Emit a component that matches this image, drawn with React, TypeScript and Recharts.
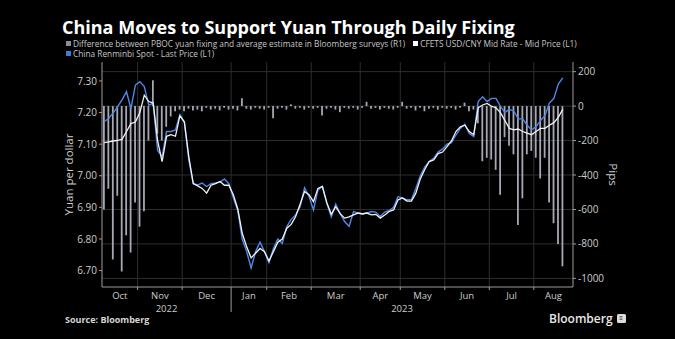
import React from 'react'
import {
  ComposedChart,
  Bar,
  Line,
  XAxis,
  YAxis,
  CartesianGrid,
} from 'recharts'

// one point ~ every second trading day, Oct 2022 -> mid Aug 2023
const months = ['Oct', 'Nov', 'Dec', 'Jan', 'Feb', 'Mar', 'Apr', 'May', 'Jun', 'Jul', 'Aug']
const monthPoints = [8, 10, 11, 8, 10, 11, 9, 10, 10, 10, 7]
const years = ['2022', '2023']
const yearMonths = [3, 8]

// China Renminbi Spot - Last Price (L1)
const spot = [
  7.171, 7.182, 7.198, 7.219, 7.24, 7.266, 7.213, 7.287,
  7.298, 7.282, 7.224, 7.229, 7.08, 7.06, 7.14, 7.14, 7.145, 7.193,
  7.17, 7.05, 6.975, 6.971, 6.977, 6.966, 6.975, 6.977, 6.98, 6.99, 6.975,
  6.93, 6.89, 6.8, 6.76, 6.708, 6.76, 6.79, 6.76,
  6.725, 6.77, 6.8, 6.786, 6.839, 6.862, 6.876, 6.902, 6.962, 6.934,
  6.892, 6.955, 6.966, 6.913, 6.87, 6.91, 6.88, 6.855, 6.84, 6.887, 6.882,
  6.88, 6.882, 6.887, 6.885, 6.871, 6.885, 6.89, 6.9, 6.934,
  6.93, 6.924, 6.924, 6.96, 7.0, 7.028, 7.045, 7.055, 7.075, 7.085,
  7.1, 7.105, 7.129, 7.15, 7.163, 7.134, 7.124, 7.235, 7.25, 7.235,
  7.245, 7.245, 7.22, 7.2, 7.21, 7.205, 7.18, 7.18, 7.16, 7.145,
  7.155, 7.175, 7.19, 7.23, 7.245, 7.29, 7.31,
]

// CFETS USD/CNY Mid Rate - Mid Price (L1)
const mid = [
  7.105, 7.107, 7.11, 7.112, 7.115, 7.14, 7.165, 7.17,
  7.2, 7.255, 7.235, 7.23, 7.11, 7.045, 7.125, 7.13, 7.125, 7.19,
  7.17, 7.06, 6.975, 6.968, 6.96, 6.945, 6.97, 6.975, 6.982, 6.97, 6.97,
  6.94, 6.895, 6.818, 6.775, 6.74, 6.755, 6.77, 6.76,
  6.73, 6.76, 6.79, 6.8, 6.834, 6.846, 6.871, 6.91, 6.95, 6.94,
  6.918, 6.96, 6.966, 6.915, 6.878, 6.902, 6.88, 6.866, 6.87, 6.876, 6.882,
  6.879, 6.882, 6.876, 6.878, 6.866, 6.876, 6.887, 6.892, 6.924,
  6.93, 6.92, 6.92, 6.945, 6.99, 7.02, 7.045, 7.05, 7.07, 7.075,
  7.092, 7.11, 7.14, 7.155, 7.16, 7.14, 7.13, 7.215, 7.224, 7.229,
  7.22, 7.215, 7.2, 7.175, 7.15, 7.145, 7.148, 7.14, 7.135, 7.13,
  7.14, 7.15, 7.15, 7.16, 7.168, 7.185, 7.21,
]

// fixing minus survey estimate, pips (R1)
const diff = [
  -600, -480, -890, -520, -960, -750, -850, -560,
  -700, -610, -200, 150, -160, -200, -120, -60, -30, -20,
  -30, -15, -25, -20, -30, -10, -20, -15, -25, -10, -20,
  -15, -25, 45, -15, -20, -10, -15, -20,
  -10, -70, -15, -10, -20, 10, -15, -10, -20, -10,
  -15, -10, -55, -15, -10, -20, -35, -10, -15, -10, -20,
  -10, 25, -15, -10, -20, -10, -15, -20, -10,
  25, -15, -10, -25, -10, -30, -15, -10, -20, -10,
  -15, -10, -20, -10, 20, -30, -20, -100, -320, -300,
  -310, -370, -515, -180, -230, -280, -690, -535, -280, -260,
  -300, -420, -300, -560, -680, -800, -930,
]

const leftTicks = [6.7, 6.8, 6.9, 7.0, 7.1, 7.2, 7.3]
const rightTicks = [200, 0, -200, -400, -600, -800, -1000]

const data = spot.map((s, i) => ({ i, spot: s, mid: mid[i], diff: diff[i] }))

const starts: number[] = []
monthPoints.reduce((acc, n) => {
  starts.push(acc)
  return acc + n
}, 0)
const boundaries = starts.map((s) => s - 0.5)
const xEnd = spot.length + 1.3
const monthCenters = boundaries.map((b, k) => (b + (k + 1 < boundaries.length ? boundaries[k + 1] : xEnd)) / 2)
const yearBreak = yearMonths[0]
const yearCenters = [
  (boundaries[0] + boundaries[yearBreak]) / 2,
  (boundaries[yearBreak] + xEnd) / 2,
]
const xTicks = [...boundaries.slice(1), ...monthCenters, ...yearCenters]

const AXIS = '#9c9c9c'
const TEXT = '#cdcdcd'
const GRID = '#2e2e2e'

function XTick(props: any) {
  const { x, y, payload } = props
  const v = payload.value
  const bi = boundaries.indexOf(v)
  if (bi > 0) {
    return <line x1={x} x2={x} y1={y} y2={y + (bi === yearBreak ? 25 : 3)} stroke={AXIS} strokeWidth={1} />
  }
  const mi = monthCenters.indexOf(v)
  if (mi >= 0) {
    return (
      <text x={x} y={y + 11.5} textAnchor="middle" fill={TEXT} fontSize={9.5}>
        {months[mi]}
      </text>
    )
  }
  const yi = yearCenters.indexOf(v)
  if (yi >= 0) {
    return (
      <text x={x} y={y + 24.5} textAnchor="middle" fill={TEXT} fontSize={9.5}>
        {years[yi]}
      </text>
    )
  }
  return null
}

function Swatch({ color }: { color: string }) {
  return <span style={{ display: 'inline-block', width: 5, height: 5, background: color, marginRight: 2 }} />
}

export default function App() {
  return (
    <div
      style={{
        position: 'absolute',
        left: 0,
        top: 0,
        width: 675,
        height: 339,
        background: '#000',
        overflow: 'hidden',
        fontFamily: '"Open Sans", "Liberation Sans", sans-serif',
      }}
    >
      <div style={{ position: 'absolute', left: 62, top: 15, fontSize: 18, lineHeight: '24px', fontWeight: 700, color: '#fff', whiteSpace: 'nowrap' }}>
        China Moves to Support Yuan Through Daily Fixing
      </div>
      <div style={{ position: 'absolute', left: 66, top: 38, fontSize: 8.3, lineHeight: '11px', color: '#c6c6c6', whiteSpace: 'nowrap' }}>
        <div style={{ display: 'flex', alignItems: 'center', height: 10 }}>
          <Swatch color="#8d8d98" />
          <span>Difference between PBOC yuan fixing and average estimate in Bloomberg surveys (R1)</span>
          <span style={{ width: 8 }} />
          <Swatch color="#ffffff" />
          <span>CFETS USD/CNY Mid Rate - Mid Price (L1)</span>
        </div>
        <div style={{ display: 'flex', alignItems: 'center', height: 10 }}>
          <Swatch color="#3f7bd9" />
          <span>China Renminbi Spot - Last Price (L1)</span>
        </div>
      </div>

      <div style={{ position: 'absolute', left: 0, top: 0 }}>
        <ComposedChart width={675} height={339} data={data} margin={{ top: 62, right: 0, bottom: 0, left: 0 }}>
          <CartesianGrid
            stroke={GRID}
            yAxisId="right"
            horizontalValues={rightTicks}
            verticalValues={boundaries.slice(1)}
          />
          <XAxis
            dataKey="i"
            type="number"
            domain={[boundaries[0], xEnd]}
            ticks={xTicks}
            interval={0}
            tick={<XTick />}
            tickLine={false}
            tickSize={0}
            tickMargin={0}
            axisLine={{ stroke: AXIS }}
            height={52}
            allowDataOverflow
          />
          <YAxis
            yAxisId="left"
            orientation="left"
            domain={[6.648, 7.36]}
            ticks={leftTicks}
            tickFormatter={(v: number) => v.toFixed(2)}
            width={102}
            tickSize={3}
            tickMargin={2}
            axisLine={{ stroke: AXIS }}
            tickLine={{ stroke: AXIS }}
            tick={{ fill: TEXT, fontSize: 10 }}
            allowDataOverflow
            label={{
              value: 'Yuan per dollar',
              angle: -90,
              position: 'insideLeft',
              offset: 69,
              fill: TEXT,
              fontSize: 11.5,
              style: { textAnchor: 'middle' },
            }}
          />
          <YAxis
            yAxisId="right"
            orientation="right"
            domain={[-1050, 256]}
            ticks={rightTicks}
            width={102}
            tickSize={3}
            tickMargin={2}
            axisLine={{ stroke: AXIS }}
            tickLine={{ stroke: AXIS }}
            tick={{ fill: TEXT, fontSize: 10 }}
            allowDataOverflow
            label={{
              value: 'Pips',
              angle: 90,
              position: 'insideRight',
              offset: 62,
              fill: TEXT,
              fontSize: 11.5,
              style: { textAnchor: 'middle' },
            }}
          />
          <Line
            yAxisId="left"
            type="linear"
            dataKey="spot"
            stroke="#4d88e6"
            strokeWidth={1.4}
            dot={false}
            isAnimationActive={false}
          />
          <Bar yAxisId="right" dataKey="diff" fill="#b9b9ca" fillOpacity={0.9} barSize={1.8} isAnimationActive={false} />
          <Line
            yAxisId="left"
            type="linear"
            dataKey="mid"
            stroke="#f2f2f2"
            strokeWidth={1.3}
            dot={false}
            isAnimationActive={false}
          />
        </ComposedChart>
      </div>

      <div style={{ position: 'absolute', left: 65, top: 313, fontSize: 9, fontWeight: 700, color: '#d6d6d6', whiteSpace: 'nowrap' }}>
        Source: Bloomberg
      </div>
      <div style={{ position: 'absolute', left: 549, top: 310, fontSize: 12, fontWeight: 600, color: '#e8e8e8', whiteSpace: 'nowrap', display: 'flex', alignItems: 'center' }}>
        <span>Bloomberg</span>
        <span
          style={{
            display: 'inline-block',
            width: 9,
            height: 9,
            marginLeft: 4,
            background: '#dcdcdc',
            borderRadius: 1.5,
            color: '#000',
            fontSize: 6,
            lineHeight: '9px',
            textAlign: 'center',
          }}
        >
          ≡
        </span>
      </div>
    </div>
  )
}
